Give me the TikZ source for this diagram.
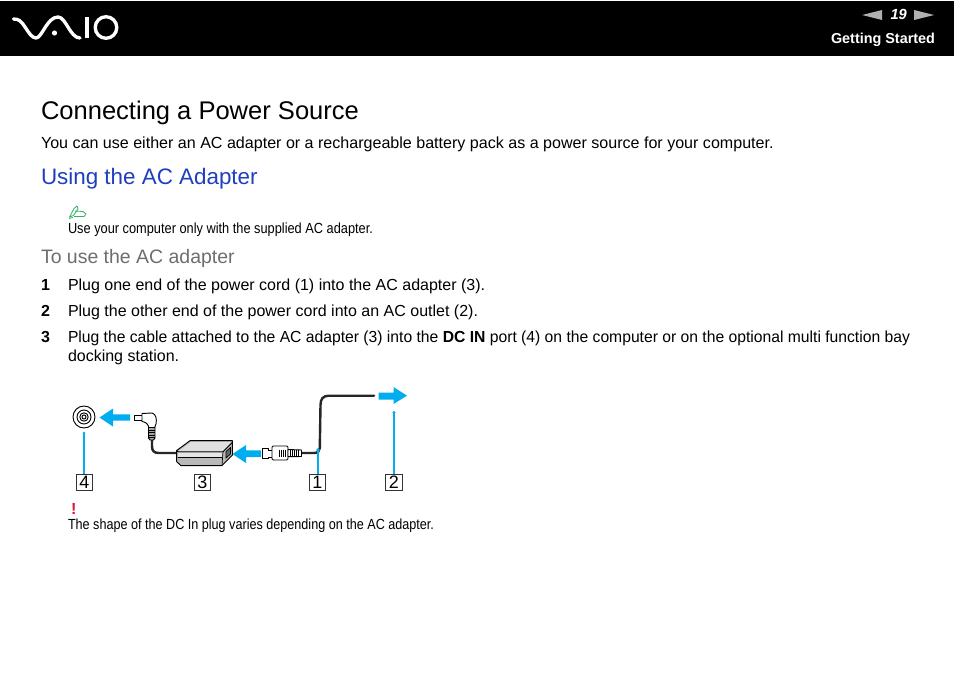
\documentclass[tikz,border=0pt]{standalone}
\usepackage{fontspec}
\setmainfont{Liberation Sans}
\newfontfamily\narrowf[FakeStretch=0.86]{Liberation Sans}
\definecolor{vblue}{HTML}{00AEEF}
\definecolor{headblue}{HTML}{1F3FBF}
\definecolor{greyhead}{HTML}{6E6E6E}
\definecolor{navgrey}{HTML}{B0B0B0}
\definecolor{warnred}{HTML}{E0102F}
\definecolor{notegreen}{HTML}{2FB56A}
\tikzset{
  x=0.75pt,y=-0.75pt,
  txt/.style={anchor=base west,inner sep=0pt,outer sep=0pt,font=\fontsize{12}{14}\selectfont,text=black},
  small/.style={txt,font=\narrowf\fontsize{11}{13}\selectfont},
  numb/.style={txt,font=\fontsize{12}{14}\selectfont\bfseries},
  labelbox/.style={draw=black!80,line width=0.7pt,fill=white,minimum width=12.2pt,minimum height=12.2pt,inner sep=0pt,font=\fontsize{13.5}{13.5}\selectfont,text=black},
  leader/.style={draw=vblue,line width=1.1pt},
  cable/.style={draw=black!85,line width=1.8pt,line cap=round},
  part/.style={draw=black,line width=0.7pt,fill=white,line join=round},
  bluearrow/.style={fill=vblue,draw=none},
}
\begin{document}
\begin{tikzpicture}
\useasboundingbox (0,0) rectangle (954,674);
\fill[white] (0,0) rectangle (954,674);
% header
\fill[black] (0,1) rectangle (954,56);
\draw[white,line width=2.5pt,line cap=round,line join=round]
  (13.5,19) .. controls (19,19) and (21,21) .. (25,27)
  .. controls (29,33) and (32,38) .. (36,38)
  .. controls (42,38) and (47,17) .. (58,17)
  .. controls (66,17) and (70,38) .. (80,38);
\fill[white] (54.5,33) circle (2.6);
\draw[white,line width=2.6pt] (87,17) -- (87,38.5);
\draw[white,line width=2.5pt] (106,27.5) circle (10.8);
\fill[navgrey] (862,15) -- (882,10) -- (882,20) -- cycle;
\fill[navgrey] (934,15) -- (914,10) -- (914,20) -- cycle;
\node[txt,text=white,font=\fontsize{11}{13}\selectfont\bfseries\itshape] (pg) at (890.5,20) {19};
\node[txt,text=white,font=\fontsize{10.8}{13}\selectfont\bfseries,anchor=base east] (sec) at (935,43.5) {Getting Started};
% text
\node[txt,font=\fontsize{19.15}{24}\selectfont] (title) at (41,119) {Connecting a Power Source};
\node[txt,font=\fontsize{12.05}{14}\selectfont] (intro) at (41,148) {You can use either an AC adapter or a rechargeable battery pack as a power source for your computer.};
\node[txt,text=headblue,font=\fontsize{16.8}{21}\selectfont] (sub) at (41,184.5) {Using the AC Adapter};
% note icon
\draw[notegreen,line width=0.6pt,line join=round] (69.5,217) -- (74,208.5) -- (77,206) -- (78,209) -- (73.5,215.5) -- cycle (75,211) -- (83,211.5) -- (86,214) -- (84,216.5) -- (74,216.5) (69,218.5) -- (73,217.5);
\node[small] (note) at (68,233) {\scalebox{1.014}[1]{Use your computer only with the supplied AC adapter.}};
\node[txt,text=greyhead,font=\fontsize{14.6}{17}\selectfont] (touse) at (41,263) {To use the AC adapter};
\node[numb] (n1) at (41,290) {1};
\node[txt] (s1) at (68,290) {Plug one end of the power cord (1) into the AC adapter (3).};
\node[numb] (n2) at (41,316) {2};
\node[txt] (s2) at (68,316) {Plug the other end of the power cord into an AC outlet (2).};
\node[numb] (n3) at (41,342) {3};
\node[txt] (s3) at (68,342) {\scalebox{0.98}[1]{Plug the cable attached to the AC adapter (3) into the \textbf{DC IN} port (4) on the computer or on the optional multi function bay}};
\node[txt] (s3b) at (68,361) {docking station.};
\node[txt,text=warnred,font=\fontsize{12}{14}\selectfont\bfseries] (warn) at (71,514) {!};
\node[small] (warnt) at (68,529) {The shape of the DC In plug varies depending on the AC adapter.};
% port
\coordinate (port) at (84,417);
\draw[black,line width=0.7pt] (port) circle (11) (port) circle (7) (port) circle (4.2) (port) circle (2);
% label boxes
\node[labelbox] (b4) at (84.5,482.5) {4};
\node[labelbox] (b3) at (202.5,482.5) {3};
\node[labelbox] (b1) at (317.5,482.5) {1};
\node[labelbox] (b2) at (394,482.5) {2};
% blue arrows
\fill[bluearrow] (99.5,417.5) -- (113,408.5) -- (113,414.3) -- (130,414.3) -- (130,420.7) -- (113,420.7) -- (113,426.5) -- cycle;
\fill[bluearrow] (232.5,454) -- (246,445) -- (246,450.3) -- (261,450.3) -- (261,457) -- (246,457) -- (246,463) -- cycle;
\fill[bluearrow] (407,395.7) -- (393.5,387) -- (393.5,392.5) -- (378.5,392.5) -- (378.5,399.5) -- (393.5,399.5) -- (393.5,404) -- cycle;
% cables
\coordinate (c1) at (301,453);
\draw[cable] (c1) -- (314,453) .. controls (318,453) and (319.5,451) .. (319.8,448) -- (320.5,405) .. controls (320.5,399) and (323,395.7) .. (329,395.7) -- (374,395.7);
\draw[cable] (152,440) -- (152,446) .. controls (152,451) and (154,453) .. (159,453) -- (177,453);
% leaders
\coordinate (l4) at (84,433);
\coordinate (l1) at (318,450);
\coordinate (l2) at (394,412.5);
\draw[leader] (b4.north -| l4) -- (l4);
\draw[leader] (b1.north -| l1) -- (l1);
\draw[leader] (b2.north -| l2) -- (l2);
\fill[vblue] (l4) circle (1.5) (l1) circle (1.8) (l2) circle (1.7);
% DC plug
\draw[part] (134.3,415) -- (143,415) -- (143,420.5) -- (134.3,420.5) -- cycle;
\draw[part] (142,413.5) -- (152,413) .. controls (156,414) and (157,419) .. (156,424) -- (154.5,428) -- (149,428) .. controls (148,424) and (146,422) .. (142,421.5) -- cycle;
\draw[part,fill=black!35] (148.5,427.5) -- (155,427.5) -- (155,438) -- (153.5,440) -- (150,440) -- (148.5,438) -- cycle;
\draw[black,line width=0.7pt] (148.5,430) -- (155,430) (148.5,432.5) -- (155,432.5) (148.5,435) -- (155,435) (148.5,437.5) -- (155,437.5);
% adapter
\draw[part,fill=black!28] (176.7,450.5) -- (190,440.7) -- (232.3,440.7) -- (232.5,455) -- (221.7,465.7) -- (181,465.7) -- (176.7,461.7) -- cycle;
\fill[black!12] (178,451.7) -- (191,442) -- (231,442) -- (222.5,451.7) -- cycle;
\draw[black,line width=0.6pt,line join=round] (176.7,450.5) -- (178,451.7) -- (223,451.7) -- (232.3,442.5);
\draw[black,line width=0.5pt] (223,451.7) -- (222,465.7);
\fill[black!10] (178,452.5) -- (222,452.5) -- (222,456.7) -- (178,456.7) -- cycle;
\draw[black,line width=0.5pt] (177.5,457) -- (221.7,457);
\draw[black,line width=0.5pt,fill=black!60] (226,451.5) -- (230.5,447.5) -- (230.5,454) -- (226,458) -- cycle;
% AC plug
\draw[part] (262,448.5) -- (268,448.5) -- (268,450) -- (272,450) -- (272,457) -- (268,457) -- (268,458.5) -- (262,458.5) -- cycle;
\draw[part,rounded corners=1pt] (272,446) -- (288,446) -- (288,460) -- (272,460) -- cycle;
\draw[black,line width=0.6pt] (279,449.5) -- (279,456.5) (281,449.5) -- (281,456.5) (283,449.5) -- (283,456.5) (285,449.5) -- (285,456.5);
\draw[part] (288,449.5) -- (301.5,450) -- (301.5,456.5) -- (288,456.7) -- cycle;
\draw[black,line width=0.5pt] (290.5,449.5) -- (290.5,456.5) (292.5,449.5) -- (292.5,456.5) (294.5,449.5) -- (294.5,456.5) (296.5,449.5) -- (296.5,456.5) (298.5,449.5) -- (298.5,456.5);
\end{tikzpicture}
\end{document}
